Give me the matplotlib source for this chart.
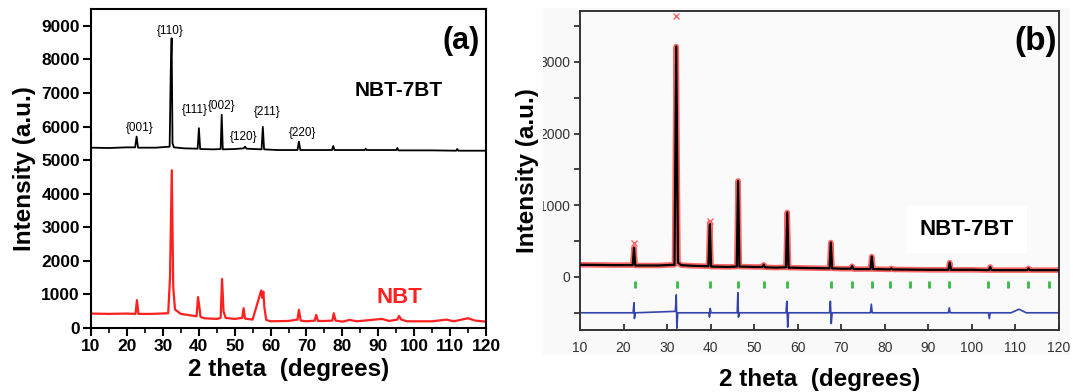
import numpy as np
import matplotlib
matplotlib.use("Agg")
import matplotlib.pyplot as plt
from matplotlib.patches import Rectangle
from matplotlib.transforms import Bbox, TransformedBbox

plt.rcParams['font.family'] = ['Liberation Sans', 'DejaVu Sans']

# ---- panel (a) data: 2theta / intensity ----
bt_x = [10, 15, 20, 22.3, 22.7, 23.1, 28, 31.9, 32.2, 32.45, 32.7, 33.1, 36,
        39.7, 40.05, 40.4, 44, 46.1, 46.4, 46.7, 50, 52.5, 52.9, 53.3,
        57.5, 57.85, 58.2, 62, 67.5, 67.9, 68.3, 72, 77.1, 77.45, 77.8, 82,
        86.2, 86.5, 86.8, 95.0, 95.3, 95.6, 105, 111.7, 112, 112.3, 120]
bt_y = [5370, 5360, 5380, 5380, 5700, 5370, 5370, 5400, 7600, 8630, 5500, 5380, 5350,
        5340, 5950, 5330, 5320, 5330, 6350, 5320, 5330, 5350, 5400, 5340,
        5320, 5990, 5320, 5300, 5300, 5550, 5300, 5300, 5300, 5420, 5300, 5300,
        5300, 5340, 5300, 5300, 5360, 5290, 5290, 5280, 5330, 5280, 5280]

nbt_x = [10, 15, 20, 22.4, 22.8, 23.2, 27, 31.5, 32.0, 32.5, 32.9, 33.4, 35, 37.5,
         39.4, 39.8, 40.1, 40.5, 41.5, 45, 46.1, 46.5, 46.9, 47.5, 50, 52.1, 52.5,
         52.9, 55, 57.4, 57.7, 58.0, 58.3, 58.8, 60, 65, 67.5, 67.9, 68.4, 70,
         72.3, 72.7, 73.2, 75, 77.2, 77.6, 78.1, 80, 82, 84, 87, 91, 93, 95.3,
         95.8, 96.4, 98, 105, 109, 111, 115, 117, 120]
nbt_y = [430, 420, 430, 420, 830, 420, 420, 440, 1500, 4700, 1200, 550, 420, 380,
         350, 920, 700, 330, 290, 270, 300, 1460, 500, 300, 270, 300, 590,
         280, 250, 1120, 900, 1080, 600, 240, 200, 210, 250, 540, 220, 200,
         220, 390, 210, 210, 220, 440, 220, 190, 240, 200, 230, 270, 210, 250,
         360, 250, 200, 200, 250, 200, 290, 220, 190]

hkl_labels = ['{001}', '{110}', '{111}', '{002}', '{120}', '{211}', '{220}']
hkl_pos = [(23.6, 5950), (32.0, 8850), (39.0, 6490), (46.5, 6600),
           (52.4, 5700), (59.0, 6420), (68.8, 5800)]

# ---- panel (b) data: Rietveld fit ----
calc_x = [10, 18, 22.1, 22.4, 22.7, 28, 31.7, 32.1, 32.5, 33.2, 36, 39.5, 39.8, 40.1,
          44, 46.0, 46.3, 46.6, 50, 51.9, 52.2, 52.5, 55, 57.3, 57.6, 57.9, 62,
          67.3, 67.6, 67.9, 70, 72.2, 72.5, 72.8, 76.7, 77.0, 77.3, 81.2, 81.5,
          81.8, 90, 94.6, 94.9, 95.2, 100, 103.9, 104.2, 104.5, 112.7, 113.0,
          113.3, 120]
calc_y = [170, 165, 165, 405, 160, 160, 170, 3215, 200, 165, 155, 150, 755, 145,
          140, 145, 1340, 145, 140, 140, 170, 135, 130, 135, 900, 130, 125,
          120, 480, 120, 115, 115, 150, 110, 110, 285, 110, 105, 120, 105,
          100, 100, 200, 100, 100, 95, 140, 95, 95, 120, 95, 95]

obs_peak_x = [22.4, 32.1, 39.8]
obs_peak_y = [475, 3640, 780]

bragg_x = [22.6, 32.2, 39.9, 46.2, 52.2, 57.6, 67.6, 72.5, 77.0, 81.2, 85.8,
           90.2, 94.8, 103.7, 108.2, 112.9, 117.7]

diff_x = [10, 22.2, 22.4, 22.5, 22.7, 31.9, 32.1, 32.25, 32.45, 39.6, 39.75, 39.9,
          40.1, 46.1, 46.25, 46.4, 46.6, 57.3, 57.5, 57.7, 57.9, 67.3, 67.5, 67.7,
          67.9, 76.7, 76.9, 77.1, 94.6, 94.8, 95.0, 103.8, 104.0, 104.2, 109,
          110.8, 112.5, 120]
diff_y = [-500, -500, -360, -580, -500, -480, -250, -715, -500, -500, -560, -440,
          -500, -500, -220, -560, -500, -500, -340, -700, -500, -500, -340, -650,
          -500, -500, -380, -500, -500, -430, -500, -500, -580, -500, -500,
          -450, -500, -500]

W, H = 1073, 392
fig = plt.figure(figsize=(W / 100, H / 100), dpi=100)

# light grey backdrop of the pasted panel (b)
fig.patches.append(Rectangle((543 / W, (H - 355) / H), (1070 - 543) / W, 347 / H,
                             transform=fig.transFigure, facecolor='#f9f9f9',
                             edgecolor='none', zorder=-5))

# ================= panel (a) =================
ax1 = fig.add_axes([91 / W, (H - 328) / H, (486 - 91) / W, (328 - 9) / H])
ax1.plot(bt_x, bt_y, color='black', lw=1.3)
ax1.plot(nbt_x, nbt_y, color='#ff2020', lw=1.6)
ax1.set_xlim(10, 120)
ax1.set_ylim(0, 9500)
ax1.set_xticks(np.arange(10, 121, 10))
ax1.set_xticks(np.arange(15, 120, 10), minor=True)
ax1.set_yticks(np.arange(0, 9001, 1000))
ax1.tick_params(axis='both', which='major', direction='out', length=6, width=1.5,
                labelsize=12.5, pad=2)
ax1.tick_params(axis='x', which='minor', direction='out', length=3.5, width=1.2)
for lbl in ax1.get_xticklabels() + ax1.get_yticklabels():
    lbl.set_fontweight('bold')
for s in ax1.spines.values():
    s.set_linewidth(1.5)
ax1.set_xlabel('2 theta  (degrees)', fontsize=17.5, fontweight='bold', labelpad=3)
ax1.set_ylabel('Intensity (a.u.)', fontsize=17.5, fontweight='bold', labelpad=4)

for lab, (px, py) in zip(hkl_labels, hkl_pos):
    ax1.text(px, py, lab, fontsize=8.5, ha='center', va='center')
ax1.text(0.985, 0.90, '(a)', transform=ax1.transAxes, fontsize=22,
         fontweight='bold', ha='right', va='center')
ax1.text(0.78, 0.745, 'NBT-7BT', transform=ax1.transAxes, fontsize=15,
         fontweight='bold', ha='center', va='center')
ax1.text(0.78, 0.095, 'NBT', transform=ax1.transAxes, fontsize=16,
         fontweight='bold', color='#ff2020', ha='center', va='center')

# ================= panel (b) =================
ax2 = fig.add_axes([580 / W, (H - 330) / H, (1059 - 580) / W, (330 - 11) / H])
ax2.set_facecolor('#fafafa')
ax2.plot(calc_x, calc_y, color='#ff3333', lw=4, alpha=0.75, zorder=2)
ax2.plot(calc_x, calc_y, color='black', lw=1.6, zorder=3)
ax2.plot(obs_peak_x, obs_peak_y, 'x', color='#ff6666', ms=4, mew=1, zorder=3)
ax2.vlines(bragg_x, -150, -60, color='#33bb44', lw=2)
ax2.plot(diff_x, diff_y, color='#3344aa', lw=1.2)
ax2.set_xlim(10, 120)
ax2.set_ylim(-740, 3710)
ax2.set_xticks(np.arange(10, 121, 10))
ax2.set_yticks([0, 1000, 2000, 3000])
ax2.set_yticks([-500, 500, 1500, 2500, 3500], minor=True)
ax2.tick_params(axis='x', direction='in', length=4, width=1.3, labelsize=10,
                colors='#333333', pad=8)
ax2.tick_params(axis='y', which='both', direction='out', length=4, width=1.3,
                labelsize=10, colors='#333333', pad=3)
for s in ax2.spines.values():
    s.set_linewidth(1.4)
    s.set_color('#333333')
ax2.set_xlabel('2 theta  (degrees)', fontsize=17.5, fontweight='bold', labelpad=9)
ax2.set_ylabel('Intensity (a.u.)', fontsize=17.5, fontweight='bold', labelpad=0)

# clip the y tick labels at the edge of the grey backdrop, as in the original
clip = TransformedBbox(Bbox([[543 / W, 0], [1, 1]]), fig.transFigure)
for t in ax2.yaxis.get_major_ticks():
    t.label1.set_clip_box(clip)
    t.label1.set_clip_on(True)

ax2.text(0.995, 0.905, '(b)', transform=ax2.transAxes, fontsize=24,
         fontweight='bold', ha='right', va='center')
ax2.text(0.808, 0.315, 'NBT-7BT', transform=ax2.transAxes, fontsize=16,
         fontweight='bold', ha='center', va='center', zorder=4,
         bbox=dict(boxstyle='square,pad=0.6', facecolor='white', edgecolor='none'))

fig.savefig('out.png', dpi=100)
